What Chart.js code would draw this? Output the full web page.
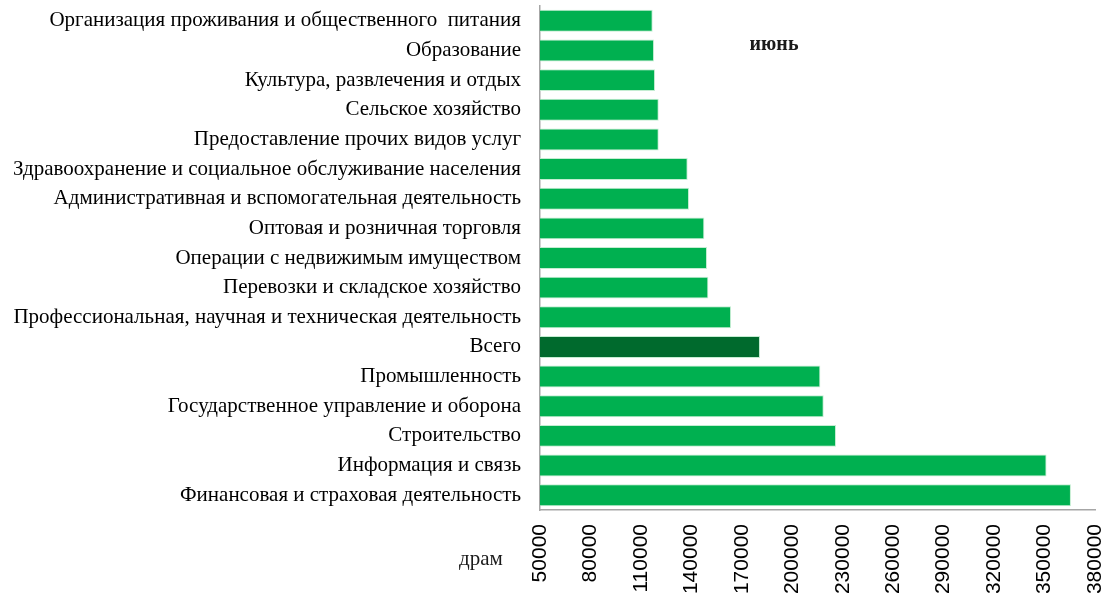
<!DOCTYPE html>
<html>
<head>
<meta charset="utf-8">
<script src="https://cdn.jsdelivr.net/npm/chart.js@4"></script>
<style>
    html, body { margin: 0; padding: 0; background: #ffffff; }
    #wrap { width: 1107px; height: 593px; position: relative; }
</style>
</head>
<body>
<div id="wrap"><canvas id="chart"></canvas></div>
<script>
// категории (сверху вниз)
const categories = [
    'Организация проживания и общественного  питания',
    'Образование',
    'Культура, развлечения и отдых',
    'Сельское хозяйство',
    'Предоставление прочих видов услуг',
    'Здравоохранение и социальное обслуживание населения',
    'Административная и вспомогательная деятельность',
    'Оптовая и розничная торговля',
    'Операции с недвижимым имуществом',
    'Перевозки и складское хозяйство',
    'Профессиональная, научная и техническая деятельность',
    'Всего',
    'Промышленность',
    'Государственное управление и оборона',
    'Строительство',
    'Информация и связь',
    'Финансовая и страховая деятельность'
];

// средняя зарплата, июнь (драм)
const wages = [
    117000, 117800, 118400, 120600, 120600, 137800, 138600, 147700, 149300,
    150100, 163600, 180800, 216700, 218700, 226000, 351200, 365700
];

const xMin = 50000;
const xMax = 380000;
const xStep = 30000;

const periodLabel = 'июнь';
const unitLabel = 'драм';

const GREEN = '#00b050';
const DARK_GREEN = '#006a2d';

const barColors = categories.map(c => c === 'Всего' ? DARK_GREEN : GREEN);

const textPlugin = {
    id: 'extraText',
    afterDraw(chart) {
        const ctx = chart.ctx;
        ctx.save();
        ctx.fillStyle = '#1a1a1a';
        ctx.textAlign = 'center';
        ctx.textBaseline = 'middle';
        ctx.font = "bold 20px 'Liberation Serif', serif";
        ctx.fillText(periodLabel, 774, 45);
        ctx.font = "21px 'Liberation Serif', serif";
        ctx.fillText(unitLabel, 481, 559);
        ctx.restore();
    }
};

// убираем автоматические отступы шкал, чтобы область графика была 540..1095 x 6..510
function noPadding(scale) {
    scale.paddingLeft = 0;
    scale.paddingRight = 0;
    scale.paddingTop = 0;
    scale.paddingBottom = 0;
}

new Chart(document.getElementById('chart'), {
    type: 'bar',
    data: {
        labels: categories,
        datasets: [{
            data: wages,
            backgroundColor: barColors,
            borderColor: 'rgba(190, 235, 205, 0.9)',
            borderWidth: 1,
            categoryPercentage: 1,
            barPercentage: 0.74
        }]
    },
    options: {
        indexAxis: 'y',
        responsive: true,
        maintainAspectRatio: false,
        animation: false,
        layout: { padding: { top: 6, right: 12, bottom: 0, left: 0 } },
        plugins: {
            legend: { display: false },
            tooltip: { enabled: false }
        },
        scales: {
            x: {
                min: xMin,
                max: xMax,
                grid: { display: true, drawOnChartArea: false, drawTicks: false },
                border: { display: true, color: '#a6a6a6', width: 1.5 },
                ticks: {
                    stepSize: xStep,
                    autoSkip: false,
                    minRotation: 90,
                    maxRotation: 90,
                    padding: 14,
                    color: '#000000',
                    font: { family: "'Liberation Sans', sans-serif", size: 21 },
                    callback: v => String(v)
                },
                afterFit(scale) {
                    scale.height = 83;
                    noPadding(scale);
                }
            },
            y: {
                grid: { display: true, drawOnChartArea: false, drawTicks: false },
                border: { display: true, color: '#a6a6a6', width: 1.5 },
                ticks: {
                    autoSkip: false,
                    padding: 19,
                    color: '#000000',
                    font: { family: "'Liberation Serif', serif", size: 21 }
                },
                afterFit(scale) {
                    scale.width = 540;
                    noPadding(scale);
                }
            }
        }
    },
    plugins: [textPlugin]
});
</script>
</body>
</html>
